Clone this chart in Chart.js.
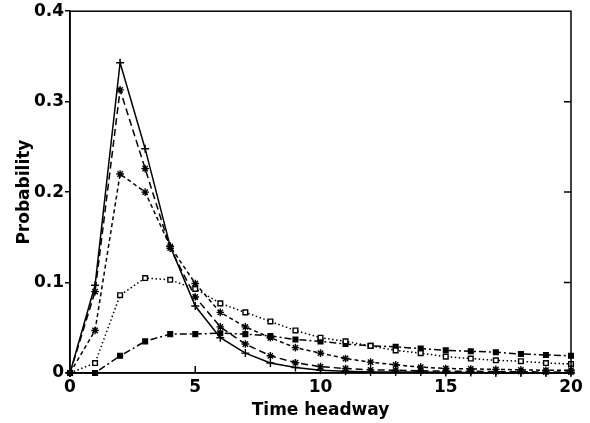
<!DOCTYPE html>
<html lang="en">
<head>
  <meta charset="UTF-8">
  <title>Time headway probability</title>
  <script src="https://cdn.jsdelivr.net/npm/chart.js"></script>
  <style>
    html, body { margin: 0; padding: 0; background: #fff; }
    #wrap { width: 590px; height: 423px; }
  </style>
</head>
<body>
  <div id="wrap"><canvas id="chart" width="590" height="423"></canvas></div>

  <script>
    // headway values 0..20
    const headway = [0,1,2,3,4,5,6,7,8,9,10,11,12,13,14,15,16,17,18,19,20];

    const solidPlus = [0, 0.097, 0.343, 0.248, 0.14, 0.074, 0.039, 0.022, 0.011, 0.006, 0.003, 0.002, 0.001, 0.001, 0.001, 0.0005, 0.0005, 0, 0, 0, 0];
    const dashedCross = [0, 0.09, 0.313, 0.226, 0.138, 0.084, 0.051, 0.032, 0.019, 0.0114, 0.007, 0.005, 0.0035, 0.003, 0.0025, 0.002, 0.002, 0.0015, 0.0015, 0.001, 0.001];
    const shortDashStar = [0, 0.047, 0.22, 0.2, 0.14, 0.099, 0.067, 0.051, 0.039, 0.028, 0.022, 0.016, 0.012, 0.009, 0.0065, 0.005, 0.0045, 0.004, 0.0035, 0.003, 0.003];
    const dottedOpenSq = [0, 0.011, 0.086, 0.105, 0.103, 0.093, 0.077, 0.067, 0.057, 0.047, 0.039, 0.035, 0.03, 0.025, 0.022, 0.018, 0.016, 0.014, 0.013, 0.011, 0.01];
    const dashDotFilledSq = [0, 0, 0.019, 0.035, 0.043, 0.043, 0.044, 0.043, 0.041, 0.037, 0.035, 0.032, 0.03, 0.029, 0.027, 0.025, 0.024, 0.023, 0.021, 0.02, 0.019];

    const xTickValues = [0, 5, 10, 15, 20];
    const yTickValues = [0, 0.1, 0.2, 0.3, 0.4];

    const FONT = "'DejaVu Sans', sans-serif";

    function pts(arr) {
      return arr.map((v, i) => ({ x: headway[i], y: v }));
    }

    function series(arr, dash, style, fill, radius) {
      return {
        data: pts(arr),
        borderColor: '#000',
        borderWidth: 1.5,
        borderDash: dash,
        pointStyle: style,
        pointRadius: radius,
        pointBorderWidth: 1.4,
        pointBorderColor: '#000',
        pointBackgroundColor: fill,
        fill: false,
        tension: 0,
        clip: false
      };
    }

    // box round the plot, with inward ticks on the bottom and right
    const framePlugin = {
      id: 'frame',
      afterDatasetsDraw(chart) {
        const { ctx, chartArea: a, scales: { x, y } } = chart;
        ctx.save();
        ctx.strokeStyle = '#000';
        ctx.lineWidth = 1.5;
        ctx.strokeRect(a.left, a.top, a.right - a.left, a.bottom - a.top);
        ctx.beginPath();
        xTickValues.slice(1, -1).forEach(v => {
          const px = x.getPixelForValue(v);
          ctx.moveTo(px, a.bottom);
          ctx.lineTo(px, a.bottom - 7);
        });
        yTickValues.slice(1, -1).forEach(v => {
          const py = y.getPixelForValue(v);
          ctx.moveTo(a.right, py);
          ctx.lineTo(a.right - 7, py);
        });
        ctx.stroke();
        ctx.restore();
      }
    };

    new Chart(document.getElementById('chart'), {
      type: 'line',
      data: {
        datasets: [
          series(solidPlus, [], 'cross', '#000', 4),
          series(dashedCross, [7, 4], 'star', '#000', 3.8),
          series(shortDashStar, [4, 3], 'star', '#000', 3.8),
          series(dottedOpenSq, [1.5, 2.5], 'rect', '#fff', 3.3),
          series(dashDotFilledSq, [7, 3, 2, 3], 'rect', '#000', 3.3)
        ]
      },
      options: {
        responsive: false,
        animation: false,
        layout: { padding: { top: 11, right: 19, bottom: 0, left: 14 } },
        plugins: {
          legend: { display: false },
          tooltip: { enabled: false }
        },
        scales: {
          x: {
            type: 'linear',
            min: 0,
            max: 20,
            afterFit(scale) { scale.height = 50; },
            afterBuildTicks(scale) { scale.ticks = xTickValues.map(v => ({ value: v })); },
            grid: { display: true, drawOnChartArea: false, drawTicks: false, color: '#000' },
            border: { color: '#000', width: 1.5 },
            ticks: {
              color: '#000',
              padding: 4,
              maxRotation: 0,
              font: { family: FONT, size: 17, weight: 'bold' }
            },
            title: {
              display: true,
              text: 'Time headway',
              color: '#000',
              padding: { top: 0, bottom: 2 },
              font: { family: FONT, size: 17, weight: 'bold' }
            }
          },
          y: {
            min: 0,
            max: 0.4,
            afterFit(scale) { scale.width = 56; },
            afterBuildTicks(scale) { scale.ticks = yTickValues.map(v => ({ value: v })); },
            grid: { display: true, drawOnChartArea: false, drawTicks: true, tickLength: 5, color: '#000', lineWidth: 1.5 },
            border: { color: '#000', width: 1.5 },
            ticks: {
              color: '#000',
              padding: 1,
              font: { family: FONT, size: 17, weight: 'bold' },
              callback: v => v === 0 ? '0' : v.toFixed(1)
            },
            title: {
              display: true,
              text: 'Probability',
              color: '#000',
              padding: { top: 0, bottom: 0 },
              font: { family: FONT, size: 17, weight: 'bold' }
            }
          }
        }
      },
      plugins: [framePlugin]
    });
  </script>
</body>
</html>
